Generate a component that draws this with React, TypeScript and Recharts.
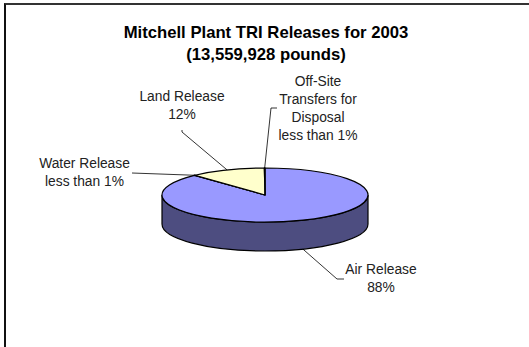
import { PieChart, Pie, Cell } from 'recharts'

const NAMES = ['Air Release', 'Water Release', 'Land Release', 'Off-Site Transfers']
const VALUES = [88, 0.1, 11.8, 0.1]
const LABEL_LINES = [
  ['Air Release', '88%'],
  ['Water Release', 'less than 1%'],
  ['Land Release', '12%'],
  ['Off-Site', 'Transfers for', 'Disposal', 'less than 1%'],
]
const COLORS = ['#9999ff', '#993366', '#ffffcc', '#ccffff']
const TITLE_LINES = ['Mitchell Plant TRI Releases for 2003', '(13,559,928 pounds)']

// layout of the hand-placed labels and their elbows
const LABEL_POS = [
  { x: 381, y: 269 },
  { x: 84.5, y: 163 },
  { x: 182, y: 96 },
  { x: 318, y: 81 },
]
const ELBOWS = [
  [[344, 279], [337, 279]],
  [[132, 173]],
  [[182, 130], [182, 132]],
  [[277, 108], [271, 108]],
]

const FONT = '"Liberation Sans", Arial, sans-serif'
const SQUASH = 0.262
const DEPTH = 29
const chartData = NAMES.map((name, i) => ({ name, value: VALUES[i] }))

const pt = (cx: number, cy: number, r: number, deg: number) => {
  const a = (deg * Math.PI) / 180
  return [cx + r * Math.cos(a), cy - r * SQUASH * Math.sin(a)]
}

function Slice(props: any) {
  const { cx, cy, outerRadius: r, startAngle, endAngle, fill } = props
  const [sx, sy] = pt(cx, cy, r, startAngle)
  const [ex, ey] = pt(cx, cy, r, endAngle)
  const large = Math.abs(startAngle - endAngle) > 180 ? 1 : 0
  const ry = r * SQUASH
  const from = Math.min(startAngle, 0)
  const to = Math.max(endAngle, -180)
  let wall = null
  if (from > to) {
    const [ax, ay] = pt(cx, cy, r, from)
    const [bx, by] = pt(cx, cy, r, to)
    wall = (
      <path
        d={`M${ax},${ay} A${r},${ry} 0 0 1 ${bx},${by} L${bx},${by + DEPTH} A${r},${ry} 0 0 0 ${ax},${ay + DEPTH} Z`}
        fill="#4d4d80"
        stroke="#000"
        strokeWidth={1.2}
      />
    )
  }
  return (
    <g>
      {wall}
      <path
        d={`M${cx},${cy} L${sx},${sy} A${r},${ry} 0 ${large} 1 ${ex},${ey} Z`}
        fill={fill}
        stroke="#000"
        strokeWidth={1.2}
      />
    </g>
  )
}

function SliceLabel(props: any) {
  const { index, cx, cy, outerRadius, midAngle } = props
  const [mx, my] = pt(cx, cy, outerRadius, midAngle)
  const front = Math.sin((midAngle * Math.PI) / 180) < 0
  const pts = [...ELBOWS[index], [mx, front ? my + DEPTH : my]]
  const pos = LABEL_POS[index]
  return (
    <g>
      <polyline points={pts.map((p) => p.join(',')).join(' ')} fill="none" stroke="#000" strokeWidth={0.8} />
      {LABEL_LINES[index].map((line, i) => (
        <text
          key={line}
          x={pos.x}
          y={pos.y + i * 18}
          textAnchor="middle"
          dominantBaseline="central"
          fontFamily={FONT}
          fontSize={13.8}
          fill="#222"
        >
          {line}
        </text>
      ))}
    </g>
  )
}

export default function App() {
  return (
    <div style={{ position: 'absolute', left: 0, top: 0, width: 529, height: 347, background: '#fff' }}>
      <div style={{ position: 'absolute', left: 4, top: 3, width: 525, height: 344, borderTop: '2px solid #333', borderLeft: '2px solid #111', boxSizing: 'border-box' }} />
      <div style={{ position: 'absolute', left: 0, top: 0 }}>
        <PieChart width={529} height={347} margin={{ top: 0, right: 0, bottom: 0, left: 0 }}>
          {TITLE_LINES.map((line, i) => (
            <text
              key={line}
              x={266}
              y={32 + i * 22}
              textAnchor="middle"
              dominantBaseline="central"
              fontFamily={FONT}
              fontWeight="bold"
              fontSize={16.7}
              fill="#000"
            >
              {line}
            </text>
          ))}
          <Pie
            data={chartData}
            dataKey="value"
            cx={265}
            cy={195}
            outerRadius={103}
            startAngle={90}
            endAngle={-270}
            stroke="#000"
            isAnimationActive={false}
            shape={Slice}
            label={SliceLabel}
            labelLine={false}
          >
            {chartData.map((entry, index) => (
              <Cell key={`cell-${index}`} fill={COLORS[index % COLORS.length]} />
            ))}
          </Pie>
        </PieChart>
      </div>
    </div>
  )
}
